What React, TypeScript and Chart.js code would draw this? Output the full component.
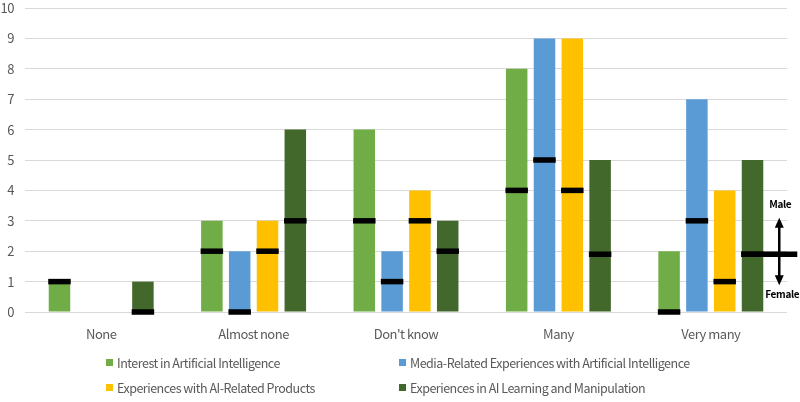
import React, { useEffect, useRef } from "react";
import { Chart, registerables } from "chart.js";

Chart.register(...registerables);

const categories = ["None", "Almost none", "Don't know", "Many", "Very many"];
const seriesNames = [
  "Interest in Artificial Intelligence",
  "Media-Related Experiences with Artificial Intelligence",
  "Experiences with AI-Related Products",
  "Experiences in AI Learning and Manipulation",
];
const interestAI = [1, 3, 6, 8, 2];
const mediaAI = [0, 2, 2, 9, 7];
const productsAI = [0, 3, 4, 9, 4];
const learningAI = [1, 6, 3, 5, 5];

// male/female split marker values (female below, male above)
const interestSplit = [1, 2, 3, 4, 0];
const mediaSplit = [null, 0, 1, 5, 3];
const productsSplit = [null, 2, 3, 4, 1];
const learningSplit = [0, 3, 2, 1.9, 1.9];

const colors = ["#70AD47", "#5B9BD5", "#FFC000", "#43682B"];
const FONT = "'Noto Sans CJK KR', 'Noto Sans', sans-serif";

const seriesValues = [interestAI, mediaAI, productsAI, learningAI];
const splitValues = [interestSplit, mediaSplit, productsSplit, learningSplit];

const spacingPlugin = {
  id: "tightText",
  beforeDraw(chart: any) {
    try {
      chart.ctx.letterSpacing = "-0.5px";
    } catch (e) {}
  },
  afterDraw(chart: any) {
    try {
      chart.ctx.letterSpacing = "0px";
    } catch (e) {}
  },
};

const markerPlugin = {
  id: "splitMarkers",
  afterDatasetsDraw(chart: any) {
    const ctx = chart.ctx;
    const y = chart.scales.y;
    ctx.save();
    ctx.fillStyle = "#000";
    splitValues.forEach((arr, i) => {
      const meta = chart.getDatasetMeta(i);
      arr.forEach((v, j) => {
        if (v === null || v === undefined) return;
        const el = meta.data[j];
        const w = el.width;
        const py = y.getPixelForValue(v);
        ctx.fillRect(el.x - w / 2 - 0.5, py - 2.75, w + 1, 5.5);
      });
    });
    // Male / Female annotation on the last dark-green bar
    const meta = chart.getDatasetMeta(3);
    const el = meta.data[4];
    const v = learningSplit[4] as number;
    const py = y.getPixelForValue(v);
    ctx.fillRect(el.x - el.width / 2 - 0.5, py - 2.75, 56, 5.5);
    const ax = el.x + el.width / 2 + 16;
    const yTop = y.getPixelForValue(v + 1.2);
    const yBot = y.getPixelForValue(v - 1.02);
    ctx.strokeStyle = "#000";
    ctx.lineWidth = 2.5;
    ctx.beginPath();
    ctx.moveTo(ax, yTop + 6);
    ctx.lineTo(ax, yBot - 6);
    ctx.stroke();
    ctx.beginPath();
    ctx.moveTo(ax, yTop);
    ctx.lineTo(ax - 4.5, yTop + 10);
    ctx.lineTo(ax + 4.5, yTop + 10);
    ctx.closePath();
    ctx.fill();
    ctx.beginPath();
    ctx.moveTo(ax, yBot);
    ctx.lineTo(ax - 4.5, yBot - 10);
    ctx.lineTo(ax + 4.5, yBot - 10);
    ctx.closePath();
    ctx.fill();
    ctx.font = `bold 10px ${FONT}`;
    try {
      ctx.letterSpacing = "-0.3px";
    } catch (e) {}
    ctx.textAlign = "center";
    ctx.textBaseline = "middle";
    ctx.fillText("Male", ax + 1, y.getPixelForValue(v + 1.65));
    ctx.fillText("Female", ax + 3, y.getPixelForValue(v - 1.33));
    ctx.restore();
  },
};

export default function App() {
  const ref = useRef<HTMLCanvasElement | null>(null);

  useEffect(() => {
    if (!ref.current) return;
    const chart = new Chart(ref.current, {
      type: "bar",
      data: {
        labels: categories,
        datasets: seriesValues.map((vals, i) => ({
          label: seriesNames[i],
          data: vals,
          backgroundColor: colors[i],
          borderWidth: 0,
          categoryPercentage: 0.73,
          barPercentage: 0.773,
        })),
      },
      options: {
        responsive: false,
        animation: false,
        layout: { padding: { left: 0, right: 13, top: 8, bottom: 0 } },
        plugins: {
          legend: { display: false },
          tooltip: { enabled: false },
        },
        scales: {
          x: {
            grid: { display: false, drawTicks: false },
            border: { display: false },
            ticks: {
              color: "#595959",
              font: { family: FONT, size: 13 },
              padding: 14,
            },
            afterFit: (s: any) => {
              s.height = 90;
              s.paddingLeft = 0;
              s.paddingRight = 0;
            },
          },
          y: {
            min: 0,
            max: 10,
            ticks: {
              stepSize: 1,
              color: "#595959",
              font: { family: FONT, size: 13 },
              padding: 11,
            },
            grid: { color: "#d9d9d9", drawTicks: false, lineWidth: 1 },
            border: { display: false },
            afterFit: (s: any) => {
              s.width = 25;
              s.paddingTop = 0;
              s.paddingBottom = 0;
            },
          },
        },
      },
      plugins: [spacingPlugin, markerPlugin],
    });
    return () => chart.destroy();
  }, []);

  const legendPos = [
    { left: 106, top: 362 },
    { left: 399, top: 362 },
    { left: 106, top: 387 },
    { left: 399, top: 387 },
  ];

  return (
    <div style={{ position: "relative", width: 800, height: 402 }}>
      <style>{`body{margin:0}`}</style>
      <canvas ref={ref} width={800} height={402} style={{ position: "absolute", left: 0, top: 0 }} />
      {seriesNames.map((name, i) => (
        <div
          key={name}
          style={{
            position: "absolute",
            left: legendPos[i].left,
            top: legendPos[i].top - 9,
            height: 18,
            display: "flex",
            alignItems: "center",
            fontFamily: FONT,
            fontSize: 12.5,
            letterSpacing: "-0.5px",
            color: "#595959",
            whiteSpace: "nowrap",
          }}
        >
          <span
            style={{
              display: "inline-block",
              width: 7,
              height: 7,
              background: colors[i],
              marginRight: 4,
            }}
          />
          <span>{name}</span>
        </div>
      ))}
    </div>
  );
}
